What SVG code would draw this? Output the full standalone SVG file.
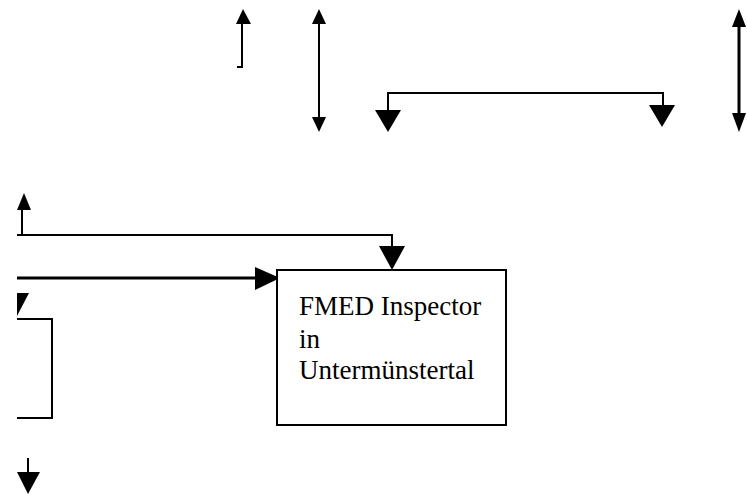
<svg xmlns="http://www.w3.org/2000/svg" width="747" height="496" viewBox="0 0 747 496">
<style>
.ln{stroke:#000;stroke-width:2;fill:none}
.thk{stroke:#000;stroke-width:3;fill:none}
.hd{fill:#000;stroke:none}
.box{fill:#fff;stroke:#000;stroke-width:2}
.lbl{font-family:"Liberation Serif","Times New Roman",serif;font-size:27px;fill:#000}
</style>
<rect width="747" height="496" fill="#fff"/>
<g id="connectors">
<path class="ln" d="M242,22V67M237,67H243"/>
<polygon class="hd" points="243,9 236,24 251,24"/>
<path class="ln" d="M319,22V120"/>
<polygon class="hd" points="319,9 312,24 326,24"/>
<polygon class="hd" points="319,132 312,117 326,117"/>
<path class="ln" d="M388,112V93H663V108"/>
<polygon class="hd" points="388,132 375,110 401,110"/>
<polygon class="hd" points="662,127 649,105 675,105"/>
<path class="thk" d="M739,25V115"/>
<polygon class="hd" points="739,9 732,27 746,27"/>
<polygon class="hd" points="739,132 732,113 746,113"/>
<path class="ln" d="M22,210V235"/>
<polygon class="hd" points="24,193 17,210 31,210"/>
<path class="ln" d="M17,235H392V248"/>
<polygon class="hd" points="392,270 379,246 405,246"/>
<path class="thk" d="M17,278H258"/>
<polygon class="hd" points="280,278 255,267 255,290"/>
<polygon class="hd" points="17,293 29,293 17,316"/>
<path class="ln" d="M28,458V475"/>
<polygon class="hd" points="28,494 17,472 40,472"/>
</g>
<g id="node-left">
<path class="ln" d="M17,319H52V418H17"/>
</g>
<g id="node-fmed">
<rect class="box" x="277" y="270" width="229" height="155"/>
<text class="lbl" x="299" y="315">FMED Inspector</text>
<text class="lbl" x="299" y="348">in</text>
<text class="lbl" x="299" y="379">Untermünstertal</text>
</g>
</svg>
